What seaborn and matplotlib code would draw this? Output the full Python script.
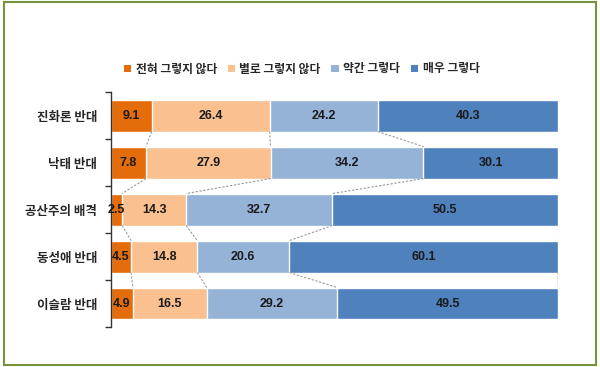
import numpy as np
import pandas as pd
import seaborn as sns
import matplotlib.pyplot as plt
from matplotlib.patches import Patch, Rectangle

categories = ["진화론 반대", "낙태 반대", "공산주의 배격", "동성애 반대", "이슬람 반대"]
series = ["전혀 그렇지 않다", "별로 그렇지 않다", "약간 그렇다", "매우 그렇다"]
v1 = [9.1, 7.8, 2.5, 4.5, 4.9]
v2 = [26.4, 27.9, 14.3, 14.8, 16.5]
v3 = [24.2, 34.2, 32.7, 20.6, 29.2]
v4 = [40.3, 30.1, 50.5, 60.1, 49.5]
colors = ["#E46C0A", "#FAC090", "#95B3D7", "#4F81BD"]

sns.set_theme(style="white")
plt.rcParams["font.family"] = ["Noto Sans CJK KR", "DejaVu Sans"]

vals = np.array([v1, v2, v3, v4]).T
cum = vals.cumsum(axis=1)
df = pd.DataFrame(cum, columns=series)
df["cat"] = categories

fig = plt.figure(figsize=(6, 3.67), dpi=100)
ax = fig.add_axes([0.185, 0.109, 0.745, 0.64])

h = 0.68
# stacked bars: draw cumulative totals from the largest down
for j in range(3, -1, -1):
    sns.barplot(data=df, y="cat", x=series[j], color=colors[j], orient="h",
                width=h, saturation=1, edgecolor="white", linewidth=1, ax=ax)

# value labels
for i in range(len(categories)):
    start = 0
    for j in range(4):
        ax.text(start + vals[i, j] / 2, i, f"{vals[i, j]:.1f}", ha="center", va="center",
                fontsize=9, fontweight="bold", color="#1a1a1a", family=["Liberation Sans"])
        start = cum[i, j]

# series lines between rows
for i in range(len(categories) - 1):
    for j in range(4):
        ax.plot([cum[i, j], cum[i + 1, j]], [i + h / 2, i + 1 - h / 2],
                color="#999999", linestyle=(0, (2, 1.5)), linewidth=0.8)

ax.set_xlim(0, 100)
ax.set_ylim(len(categories) - 0.5, -0.5)
ax.set_xlabel("")
ax.set_ylabel("")
ax.set_xticks([])
for s in ["top", "right", "bottom"]:
    ax.spines[s].set_visible(False)
ax.spines["left"].set_color("#333333")
ax.spines["left"].set_linewidth(1)
ax.set_yticks(range(len(categories)))
ax.set_yticklabels(categories, fontsize=9, fontweight="bold")
ax.tick_params(axis="y", which="major", length=0, pad=10)
ax.set_yticks(np.arange(-0.5, len(categories), 1), minor=True)
ax.tick_params(axis="y", which="minor", length=4, width=1, color="#333333", left=True)

handles = [Patch(facecolor=c, edgecolor="none") for c in colors]
fig.legend(handles, series, loc="center", bbox_to_anchor=(0.503, 0.812), ncol=4,
           frameon=False, handlelength=0.6, handleheight=0.6,
           handletextpad=0.4, columnspacing=0.9, prop={"weight": "bold", "size": 8.5})

fig.patches.append(Rectangle((0.006, 0.006), 0.988, 0.988, transform=fig.transFigure,
                             fill=False, edgecolor="#77933C", linewidth=1.5))

fig.savefig("out.png", dpi=100)
